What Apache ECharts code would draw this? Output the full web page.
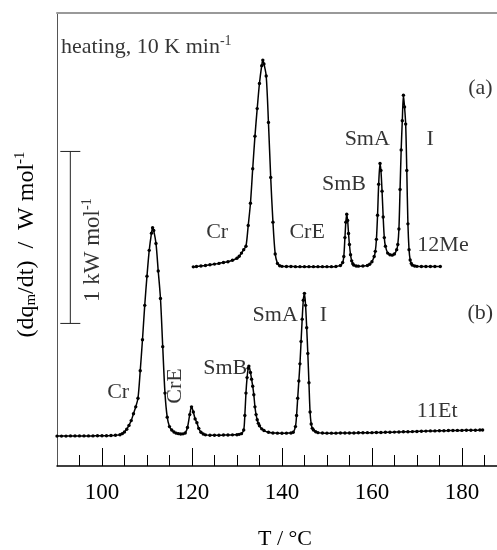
<!DOCTYPE html>
<html><head><meta charset="utf-8">
<script src="https://cdn.jsdelivr.net/npm/echarts@6/dist/echarts.min.js"></script>
<style>html,body{margin:0;padding:0;background:#fff}#c{width:497px;height:550px}</style>
</head><body><div id="c"></div>
<script>
// (a) 12Me trace, values relative to its own baseline (W mol^-1)
const curveA = [
 [120.3,0],[121,2],[122,5],[123,8],[124,12],[125,16],[126,20],[127,25],[128,30],[129,38],[130,50],[130.5,62],[131,80],[131.5,100],
 [132,120],[132.5,240],[133,370],[133.5,570],[134,760],[134.5,920],[135,1066],[135.5,1170],[135.75,1202],
 [136,1180],[136.5,1110],[137,840],[137.5,520],[138,260],[138.5,75],[139,20],[139.5,6],[140,3],
 [141,2],[142,2],[143,1],[144,1],[145,1],[146,1],[147,1],[148,1],[149,1],[150,1],[151,1],[152,2],[153,8],[153.5,25],[153.75,60],[154,170],[154.2,260],[154.4,306],
 [154.6,270],[154.8,194],[155,130],[155.25,70],[155.5,35],[155.75,18],[156,10],[156.5,5],[157,4],
 [158,5],[159,8],[159.5,15],[160,30],[160.5,60],[160.75,90],[161,160],[161.25,300],[161.5,480],[161.8,601],
 [162,560],[162.25,440],[162.5,290],[162.75,170],[163,120],[163.5,80],[164,70],[164.5,68],[165,75],
 [165.5,100],[165.75,130],[166,220],[166.25,450],[166.5,680],[166.75,850],[167,998],[167.25,930],
 [167.5,830],[167.75,560],[168,250],[168.25,100],[168.5,40],[168.75,20],[169,10],[169.5,5],[170,3],
 [171,2],[172,2],[173,2],[174,2],[175.2,2]
];
const offsetA = 984;
// (b) 11Et trace
const curveB = [
 [90,0],[91,0],[92,0],[93,1],[94,1],[95,1],[96,1],[97,1],[98,1],[99,2],[100,2],[101,2],[102,3],[103,5],
 [104,8],[104.5,14],[105,24],[105.5,40],
 [106,62],[106.5,90],[107,130],[107.5,170],[108,220],[108.5,380],[109,560],[109.5,760],[110,930],
 [110.5,1080],[111,1180],[111.25,1211],[111.5,1195],[112,1120],[112.5,960],[113,800],[113.5,520],
 [114,250],[114.5,110],[115,55],[115.5,35],[116,24],[116.5,17],[117,14],[117.5,12],[118,13],[118.5,18],
 [119,50],[119.5,125],[119.9,170],[120.3,140],[120.7,100],[121.1,78],[121.5,45],[122,22],[122.5,12],
 [123,7],[124,5],[125,5],[126,5],[127,6],[128,6],[129,7],[130,8],[130.5,10],[131,14],[131.5,35],[131.75,120],[132,250],
 [132.25,340],[132.5,395],[132.65,407],[133,370],[133.25,330],[133.5,290],[133.75,240],[134,170],
 [134.25,125],[134.5,95],[134.75,74],[135,60],[135.5,42],[136,32],[137,22],[138,18],[139,17],[140,16],[141,17],[142,18],
 [142.5,22],[143,55],[143.25,120],[143.5,220],[143.75,320],[144,420],[144.25,550],[144.5,680],
 [144.75,790],[145,830],[145.25,760],[145.5,630],[145.75,480],[146,310],[146.25,140],[146.5,70],
 [146.75,45],[147,35],[147.5,25],[148,20],[149,18],[150,17],[151,17],[152,17],[153,18],[154,18],[155,18],
 [156,18],[157,19],[158,19],[159,20],[160,20],[161,21],[162,21],[163,22],[164,22],[165,23],[166,24],
 [167,25],[168,25],[169,26],[170,27],[171,28],[172,29],[173,30],[174,30],[175,31],[176,31],[177,32],
 [178,32],[179,33],[180,33],[181,34],[182,34],[183,34],[184,35],[184.6,35]
];
const xLabelTicks = [100,120,140,160,180];
const minorTicks = [95,100,105,110,115,120,125,130,135,140,145,150,155,160,165,170,175,180,185];
const scaleBar = [[92.96, 655, 1655]];
const annotations = [
 {text:'heating, 10 K min{s|-1}', T:90.9, v:2260, align:'left'},
 {text:'(a)', T:184.1, v:2023},
 {text:'(b)', T:184.1, v:715},
 {text:'12Me', T:175.8, v:1110},
 {text:'11Et', T:174.5, v:145},
 {text:'Cr', T:125.6, v:1186},
 {text:'CrE', T:145.6, v:1186},
 {text:'SmB', T:153.8, v:1465},
 {text:'SmA', T:158.96, v:1727},
 {text:'I', T:172.96, v:1727},
 {text:'Cr', T:103.6, v:256},
 {text:'CrE', T:116.3, v:291, rotate:90},
 {text:'SmB', T:127.4, v:395},
 {text:'SmA', T:138.5, v:700},
 {text:'I', T:149.2, v:705},
 {text:'1 kW mol{s|-1}', T:98.1, v:1081, rotate:90, size:23}
];

const FONT = '"Liberation Serif","Times New Roman",serif';
const INK = '#000';
const richSup = {s:{fontFamily:FONT, fontSize:14, color:INK, padding:[0,0,12,0]}};
const chart = echarts.init(document.getElementById('c'), null, {renderer:'canvas'});
const xBase = {type:'value', min:90, max:187.8, splitLine:{show:false}};
chart.setOption({
  animation:false,
  backgroundColor:'#fff',
  grid:{left:57, right:0, top:13, bottom:84, containLabel:false, outerBoundsMode:'none'},
  xAxis:[
    Object.assign({}, xBase, {
      position:'bottom',
      axisLine:{show:true, onZero:false, lineStyle:{color:INK, width:1.5}},
      axisTick:{show:true, inside:true, length:11, customValues:minorTicks, lineStyle:{color:INK, width:1}},
      axisLabel:{show:true, customValues:xLabelTicks, margin:15, fontFamily:FONT, fontSize:23, color:INK},
      name:'T / °C', nameLocation:'middle', nameGap:62,
      nameTextStyle:{fontFamily:FONT, fontSize:22, color:INK, padding:[0,0,0,16]}
    }),
    Object.assign({}, xBase, {
      position:'bottom',
      axisLine:{show:false, onZero:false},
      axisTick:{show:true, inside:true, length:18, customValues:xLabelTicks, lineStyle:{color:INK, width:1}},
      axisLabel:{show:false}
    }),
    Object.assign({}, xBase, {
      position:'top',
      axisLine:{show:true, onZero:false, lineStyle:{color:'#999', width:2}},
      axisTick:{show:false}, axisLabel:{show:false}
    })
  ],
  yAxis:{
    type:'value', min:-174, max:2460, splitLine:{show:false},
    axisLine:{show:true, onZero:false, lineStyle:{color:'#555', width:1}},
    axisTick:{show:false}, axisLabel:{show:false},
    name:'(dq{b|m}/dt)  /  W mol{s|-1}', nameLocation:'middle', nameGap:17, nameRotate:90,
    nameTextStyle:{fontFamily:FONT, fontSize:24, color:INK, padding:[0,10,0,0],
      rich:{b:{fontFamily:FONT, fontSize:15, color:INK, padding:[10,0,0,0]},
            s:{fontFamily:FONT, fontSize:15, color:INK, padding:[0,0,12,0]}}}
  },
  series:[
    {
      type:'line', name:'12Me', data:curveA.map(p => [p[0], p[1] + offsetA]),
      smooth:0.3, showSymbol:true, showAllSymbol:true, symbol:'circle', symbolSize:3.4,
      lineStyle:{color:INK, width:1.5}, itemStyle:{color:INK}, silent:true
    },
    {
      type:'line', name:'11Et', data:curveB,
      smooth:0.3, showSymbol:true, showAllSymbol:true, symbol:'circle', symbolSize:3.4,
      lineStyle:{color:INK, width:1.5}, itemStyle:{color:INK}, silent:true
    },
    {
      type:'custom', data:scaleBar, silent:true,
      renderItem:function(params, api){
        const p0 = api.coord([api.value(0), api.value(1)]);
        const p1 = api.coord([api.value(0), api.value(2)]);
        const hw = 10, st = {stroke:'#222', lineWidth:1};
        return {type:'group', children:[
          {type:'line', shape:{x1:p0[0], y1:p0[1], x2:p1[0], y2:p1[1]}, style:st},
          {type:'line', shape:{x1:p0[0]-hw, y1:p0[1], x2:p0[0]+hw, y2:p0[1]}, style:st},
          {type:'line', shape:{x1:p1[0]-hw, y1:p1[1], x2:p1[0]+hw, y2:p1[1]}, style:st}
        ]};
      }
    },
    {
      type:'scatter', symbolSize:0, silent:true,
      data:annotations.map(a => ({
        value:[a.T, a.v],
        label:{show:true, formatter:a.text, rotate:a.rotate || 0,
          position: a.align === 'left' ? 'right' : 'inside', distance:0,
          fontFamily:FONT, fontSize:a.size || 22, color:INK, rich:richSup}
      }))
    }
  ]
});
</script></body></html>
